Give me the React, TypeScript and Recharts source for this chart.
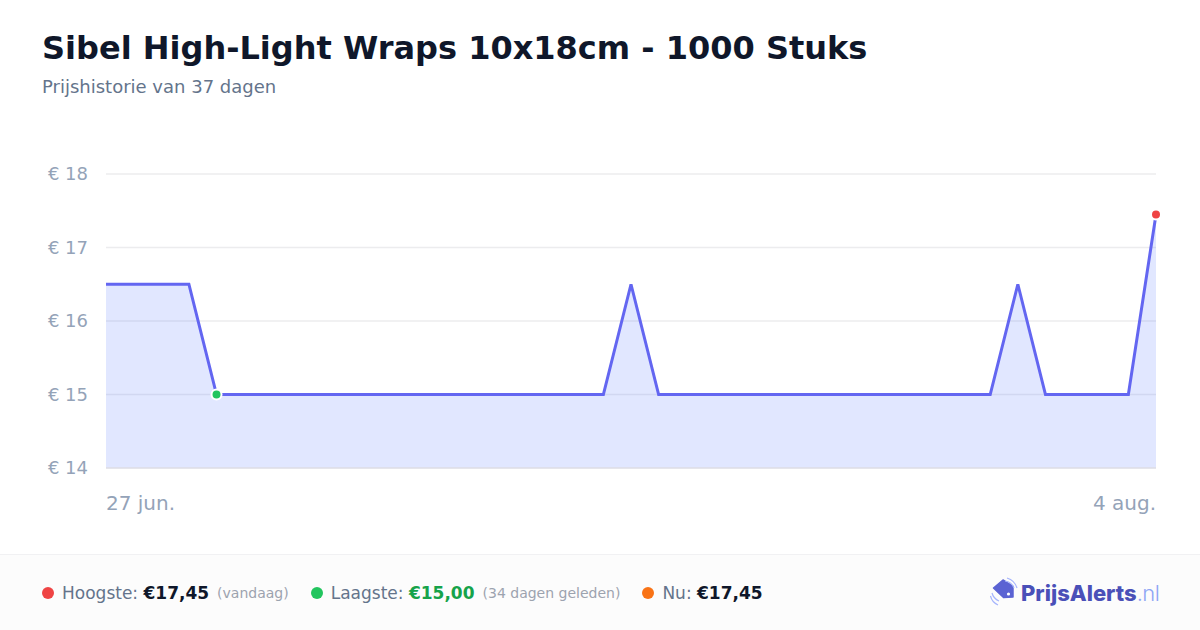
import React from "react";
import {
  AreaChart,
  Area,
  XAxis,
  YAxis,
  CartesianGrid,
  ReferenceDot,
} from "recharts";

const days = [
  "27 jun.", "28 jun.", "29 jun.", "30 jun.", "1 jul.", "2 jul.", "3 jul.", "4 jul.",
  "5 jul.", "6 jul.", "7 jul.", "8 jul.", "9 jul.", "10 jul.", "11 jul.", "12 jul.",
  "13 jul.", "14 jul.", "15 jul.", "16 jul.", "17 jul.", "18 jul.", "19 jul.", "20 jul.",
  "21 jul.", "22 jul.", "23 jul.", "24 jul.", "25 jul.", "26 jul.", "27 jul.", "28 jul.",
  "29 jul.", "30 jul.", "31 jul.", "1 aug.", "2 aug.", "3 aug.", "4 aug.",
];
const prices = [
  16.5, 16.5, 16.5, 16.5, 15, 15, 15, 15,
  15, 15, 15, 15, 15, 15, 15, 15,
  15, 15, 15, 16.5, 15, 15, 15, 15,
  15, 15, 15, 15, 15, 15, 15, 15,
  15, 16.5, 15, 15, 15, 15, 17.45,
];
const yTicks = [14, 15, 16, 17, 18];
const xTicks = ["27 jun.", "4 aug."];
const lowest = { day: "1 jul.", price: 15 };
const highest = { day: "4 aug.", price: 17.45 };

const font = "'DejaVu Sans', sans-serif";
const chartData = days.map((day, i) => ({ day, price: prices[i] }));

function XTick({ x, y, payload }: any) {
  const first = payload.value === xTicks[0];
  return (
    <text
      x={x}
      y={y + 42}
      dy={-8}
      textAnchor={first ? "start" : "end"}
      fontSize={20}
      fontFamily={font}
      fill="#94a3b8"
    >
      {payload.value}
    </text>
  );
}

function StatDot({ color }: { color: string }) {
  return (
    <span
      style={{
        display: "inline-block",
        width: 12,
        height: 12,
        borderRadius: 6,
        background: color,
        marginRight: 8,
      }}
    />
  );
}

function Logo() {
  return (
    <div style={{ position: "absolute", left: 990, top: 577, width: 180, height: 32 }}>
      <svg width={32} height={32} style={{ position: "absolute", left: 0, top: 0 }}>
        <path
          d="M3.5 11 L13 3 L23 9.5 L23 20 L13.5 20.5 Z"
          fill="#5b63d3"
          stroke="#5b63d3"
          strokeWidth={1.5}
          strokeLinejoin="round"
        />
        <circle cx={18.5} cy={17} r={1.6} fill="#fff" />
        <path d="M15 4 A11 11 0 0 1 24 11" fill="none" stroke="#a5b4fc" strokeWidth={1.2} />
        <path d="M17 1 A15 15 0 0 1 27 11" fill="none" stroke="#a5b4fc" strokeWidth={1.2} />
        <path d="M2 16 A12 12 0 0 0 9 24" fill="none" stroke="#a5b4fc" strokeWidth={1.2} />
        <path d="M0.5 19 A13 13 0 0 0 8 28" fill="none" stroke="#a5b4fc" strokeWidth={1.2} />
      </svg>
      <div
        style={{
          position: "absolute",
          left: 31,
          top: 2,
          fontFamily: "Inter, sans-serif",
          fontSize: 22,
          lineHeight: "28px",
          whiteSpace: "nowrap",
        }}
      >
        <span style={{ fontWeight: 800, color: "#4a50b8" }}>PrijsAlerts</span>
        <span style={{ fontWeight: 300, color: "#8ea6f5", letterSpacing: -0.6 }}>.nl</span>
      </div>
    </div>
  );
}

export default function App() {
  return (
    <div
      style={{
        position: "absolute",
        left: 0,
        top: 0,
        width: 1200,
        height: 630,
        background: "#fff",
        fontFamily: font,
        overflow: "hidden",
      }}
    >
      <div
        style={{
          position: "absolute",
          left: 42,
          top: 28,
          fontSize: 32,
          lineHeight: "40px",
          fontWeight: 700,
          color: "#0f172a",
          whiteSpace: "nowrap",
        }}
      >
        Sibel High-Light Wraps 10x18cm - 1000 Stuks
      </div>
      <div
        style={{
          position: "absolute",
          left: 42,
          top: 76,
          fontSize: 18,
          lineHeight: "22px",
          color: "#64748b",
          whiteSpace: "nowrap",
        }}
      >
        Prijshistorie van 37 dagen
      </div>

      <div style={{ position: "absolute", left: 0, top: 0 }}>
        <AreaChart
          width={1200}
          height={540}
          data={chartData}
          margin={{ top: 174, right: 44, left: 0, bottom: 0 }}
        >
          <CartesianGrid vertical={false} stroke="#ececee" strokeWidth={1.5} />
          <XAxis
            dataKey="day"
            ticks={xTicks}
            interval={0}
            height={72}
            axisLine={{ stroke: "#e0e1e9", strokeWidth: 1.5 }}
            tickLine={false}
            tick={<XTick />}
          />
          <YAxis
            domain={[14, 18]}
            ticks={yTicks}
            width={106}
            axisLine={false}
            tickLine={false}
            tickMargin={12}
            tickFormatter={(v: number) => `€ ${v}`}
            tick={{ fontSize: 18, fontFamily: font, fill: "#94a3b8" }}
          />
          <Area
            type="linear"
            dataKey="price"
            stroke="#6366f1"
            strokeWidth={3}
            fill="#6080ff"
            fillOpacity={0.19}
            dot={false}
            activeDot={false}
            isAnimationActive={false}
          />
          <ReferenceDot x={lowest.day} y={lowest.price} r={5} fill="#22c55e" stroke="#fff" strokeWidth={2} />
          <ReferenceDot x={highest.day} y={highest.price} r={5} fill="#ef4444" stroke="#fff" strokeWidth={2} />
        </AreaChart>
      </div>

      <div
        style={{
          position: "absolute",
          left: 0,
          top: 554,
          width: 1200,
          height: 76,
          boxSizing: "border-box",
          background: "#fcfcfc",
          borderTop: "1px solid #f1f1f3",
          fontSize: 17,
          color: "#64748b",
        }}
      >
        <div
          style={{
            position: "absolute",
            left: 42,
            top: 0,
            height: 76,
            display: "flex",
            alignItems: "center",
            whiteSpace: "nowrap",
          }}
        >
          <StatDot color="#ef4444" />
          <span>Hoogste:&nbsp;</span>
          <b style={{ color: "#0f172a" }}>€17,45</b>
          <span style={{ fontSize: 14, color: "#9ca3af", marginLeft: 8 }}>(vandaag)</span>
          <span style={{ width: 22 }} />
          <StatDot color="#22c55e" />
          <span>Laagste:&nbsp;</span>
          <b style={{ color: "#16a34a" }}>€15,00</b>
          <span style={{ fontSize: 14, color: "#9ca3af", marginLeft: 8 }}>(34 dagen geleden)</span>
          <span style={{ width: 22 }} />
          <StatDot color="#f97316" />
          <span>Nu:&nbsp;</span>
          <b style={{ color: "#0f172a" }}>€17,45</b>
        </div>
      </div>
      <Logo />
    </div>
  );
}
